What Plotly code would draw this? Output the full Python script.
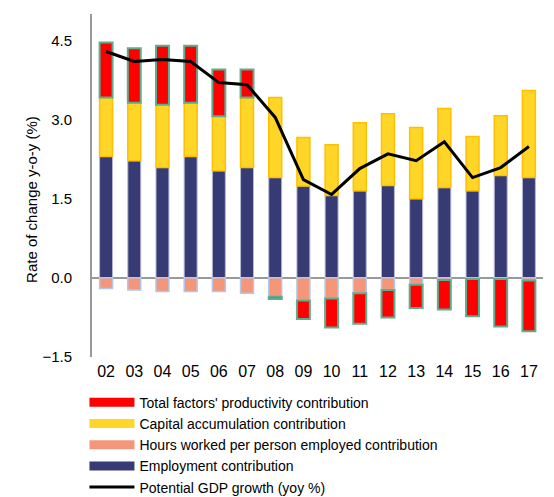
import plotly.graph_objects as go

years = ["02", "03", "04", "05", "06", "07", "08", "09", "10", "11", "12", "13", "14", "15", "16", "17"]
employment = [2.30, 2.22, 2.09, 2.30, 2.03, 2.09, 1.90, 1.74, 1.56, 1.65, 1.75, 1.50, 1.71, 1.65, 1.94, 1.90]
hours = [-0.20, -0.23, -0.26, -0.26, -0.26, -0.29, -0.36, -0.43, -0.39, -0.29, -0.23, -0.13, -0.04, -0.02, -0.02, -0.05]
capital = [1.12, 1.10, 1.19, 1.02, 1.03, 1.33, 1.52, 0.92, 0.96, 1.29, 1.36, 1.35, 1.50, 1.03, 1.13, 1.65]
tfp = [1.04, 1.03, 1.12, 1.08, 0.89, 0.53, -0.04, -0.35, -0.55, -0.58, -0.52, -0.44, -0.56, -0.71, -0.90, -0.96]
potential = [4.29, 4.10, 4.14, 4.10, 3.70, 3.66, 3.04, 1.86, 1.58, 2.07, 2.35, 2.22, 2.58, 1.90, 2.09, 2.49]
y_ticks = [-1.5, 0.0, 1.5, 3.0, 4.5]

font_family = "Liberation Sans, Arial, sans-serif"

series = [
    ("Employment contribution", employment, "#363B74", "#B8B9D8", 1, 4),
    ("Hours worked per person employed contribution", hours, "#F4967A", "#B4C7E7", 1.5, 3),
    ("Capital accumulation contribution", capital, "#FFD527", "#FFC000", 1.5, 2),
    ("Total factors' productivity contribution", tfp, "#FF0000", "#5BAF8E", 2, 1),
]

fig = go.Figure()
for name, vals, fill, edge, lw, rank in series:
    fig.add_trace(go.Bar(x=years, y=vals, name=name, legendgroup=name, showlegend=False,
                         marker=dict(color=fill, line=dict(color=edge, width=lw))))
    # legend swatch (wide rectangle look)
    fig.add_trace(go.Scatter(x=[None], y=[None], name=name, legendgroup=name, mode="lines",
                             line=dict(color=fill, width=9), legendrank=rank))
fig.add_trace(go.Scatter(x=years, y=potential, name="Potential GDP growth (yoy %)", mode="lines",
                         line=dict(color="black", width=3), legendrank=5))

fig.update_layout(
    width=554, height=497,
    barmode="relative", bargap=0.54,
    plot_bgcolor="white", paper_bgcolor="white",
    margin=dict(l=84, r=19, t=6, b=148, autoexpand=False),
    font=dict(family=font_family, color="black"),
    showlegend=True,
    legend=dict(xref="container", yref="container", x=0.138, y=0.238, xanchor="left", yanchor="top",
                font=dict(size=14, family=font_family), tracegroupgap=0, itemwidth=45,
                bgcolor="rgba(0,0,0,0)"),
    xaxis=dict(type="category", range=[-0.5, 15.5], showline=False, showgrid=False, ticks="",
               tickfont=dict(size=16), zeroline=False, tickangle=0, automargin=False,
               ticklabelstandoff=3),
    yaxis=dict(range=[-1.5, 5.0], tickvals=y_ticks, tickformat=".1f", showgrid=False,
               showline=True, linecolor="#999999", linewidth=2, ticks="", mirror=False,
               zeroline=True, zerolinecolor="#999999", zerolinewidth=2,
               tickfont=dict(size=15), ticklabelstandoff=15, automargin=False),
    annotations=[dict(text="Rate of change y-o-y (%)", xref="paper", yref="paper",
                      x=-0.133, y=0.458, textangle=-90, showarrow=False,
                      font=dict(size=15, family=font_family), xanchor="center", yanchor="middle")],
)

fig.write_html("out.html")
